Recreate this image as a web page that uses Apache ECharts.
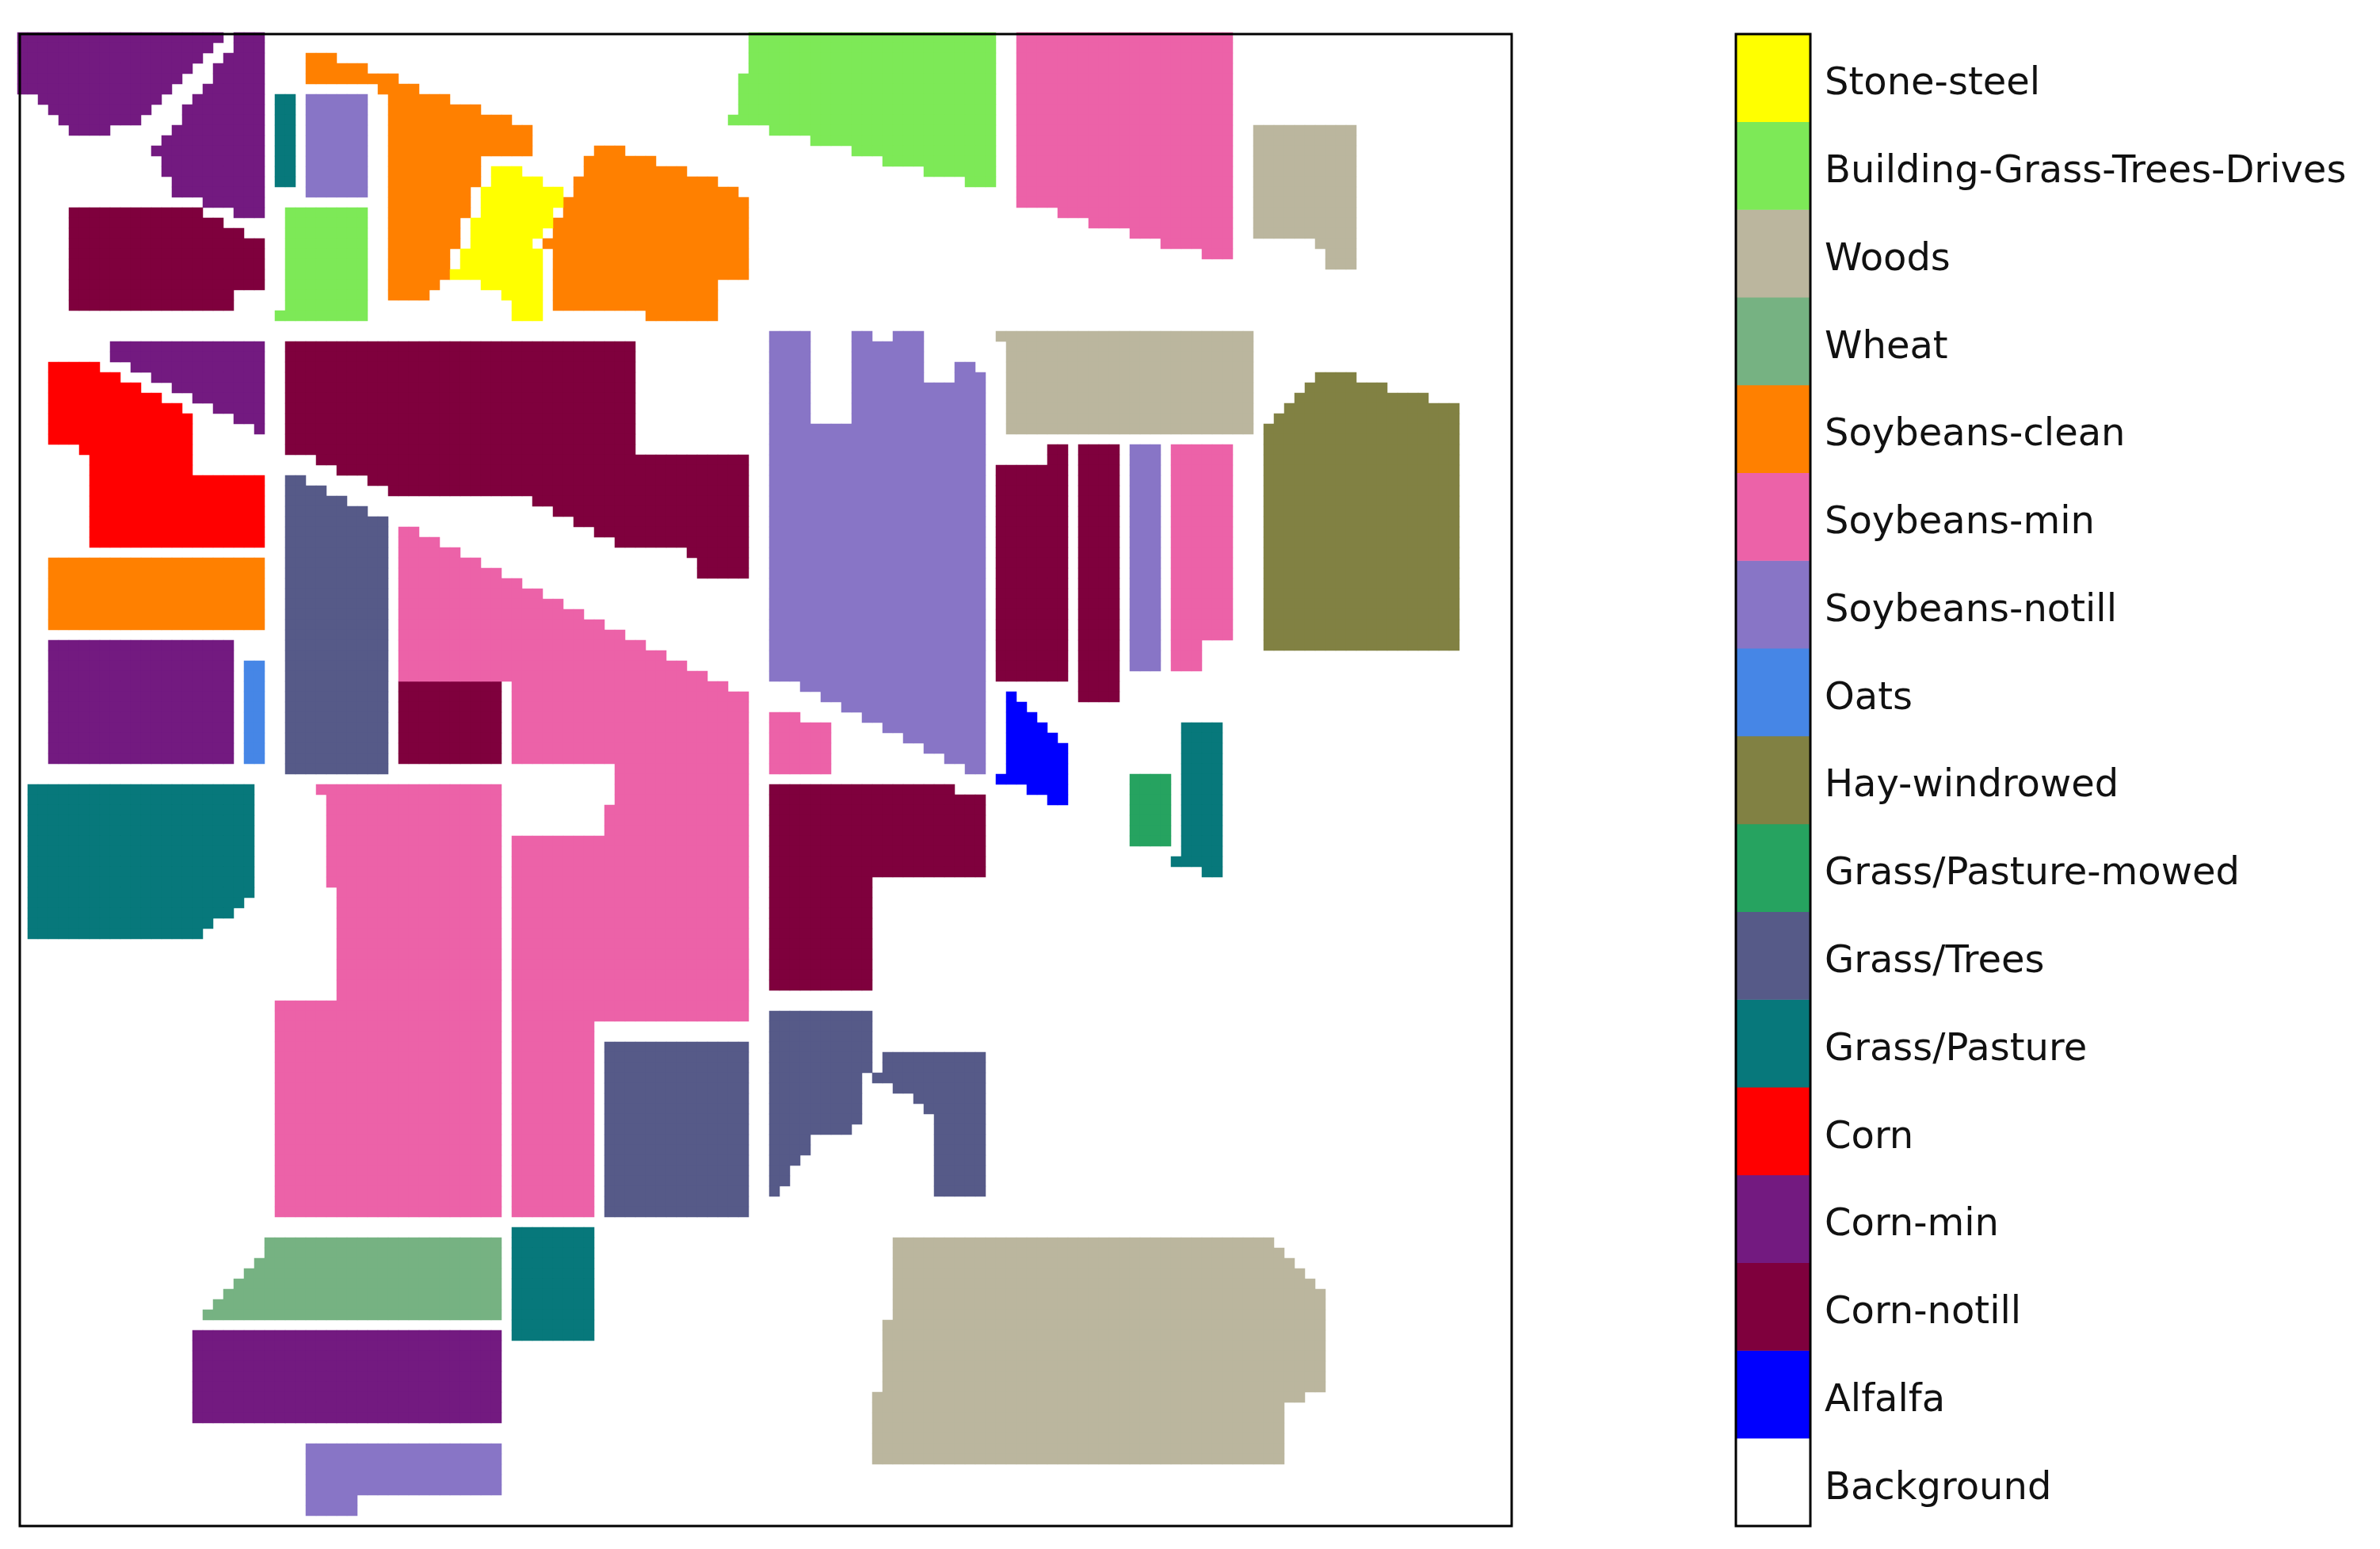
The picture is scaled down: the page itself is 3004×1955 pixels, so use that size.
<!DOCTYPE html>
<html>
<head>
<meta charset="utf-8">
<title>Indian Pines ground truth</title>
<script src="https://cdn.jsdelivr.net/npm/echarts@6/dist/echarts.min.js"></script>
<style>
  html, body { margin: 0; padding: 0; background: #fff; }
  #main { width: 3004px; height: 1955px; }
</style>
</head>
<body>
<div id="main"></div>
<script>
// legend, bottom to top (index = class value)
var classNames = ['Background', 'Alfalfa', 'Corn-notill', 'Corn-min', 'Corn', 'Grass/Pasture', 'Grass/Trees',
  'Grass/Pasture-mowed', 'Hay-windrowed', 'Oats', 'Soybeans-notill', 'Soybeans-min', 'Soybeans-clean',
  'Wheat', 'Woods', 'Building-Grass-Trees-Drives', 'Stone-steel'];
var classColors = ['#ffffff', '#0000ff', '#7f003d', '#731a80', '#ff0000', '#07787b', '#565a88',
  '#26a360', '#818143', '#4686e6', '#8875c6', '#ec62a8', '#ff8000', '#76b282', '#bbb69e', '#7de957', '#ffff00'];

var gridSize = 145;

// class map, one entry per run of rows: [first row, row after last, first col, col after last]
var alfalfa = [[64,65,96,97],[65,66,96,98],[66,67,96,99],[67,68,96,100],[68,69,96,101],[69,72,96,102],[72,73,95,102],[73,74,98,102],[74,75,100,102]];

var cornNotill = [
  [17,18,5,18],[18,19,5,20],[19,20,5,22],[20,25,5,24],[25,27,5,21],
  [30,41,26,60],[41,42,29,71],[42,43,31,71],[43,44,34,71],[44,45,36,71],[45,46,50,71],[46,47,52,71],[47,48,54,71],[48,49,56,71],[49,50,58,71],[50,51,65,71],[51,53,66,71],
  [63,71,37,47],
  [73,74,73,91],[74,82,73,94],[82,93,73,83],
  [40,42,100,102],[42,63,95,102],
  [40,65,103,107]];

var cornMin = [
  [0,1,0,20],[1,2,0,19],[2,3,0,18],[3,4,0,17],[4,5,0,16],[5,6,0,15],[6,7,2,14],[7,8,3,13],[8,9,4,12],[9,10,5,9],
  [0,2,21,24],[2,3,20,24],[3,5,19,24],[5,6,18,24],[6,7,17,24],[7,9,16,24],[9,10,15,24],[10,11,14,24],[11,12,13,24],[12,14,14,24],[14,16,15,24],[16,17,18,24],[17,18,21,24],
  [30,32,9,24],[32,33,11,24],[33,34,13,24],[34,35,15,24],[35,36,17,24],[36,37,19,24],[37,38,21,24],[38,39,23,24],
  [59,71,3,21],
  [126,135,17,47]];

var corn = [[32,33,3,8],[33,34,3,10],[34,35,3,12],[35,36,3,14],[36,37,3,16],[37,40,3,17],[40,41,6,17],[41,43,7,17],[43,50,7,24]];

var grassPasture = [
  [6,15,25,27],
  [73,84,1,23],[84,85,1,22],[85,86,1,21],[86,87,1,19],[87,88,1,18],
  [116,127,48,56],
  [67,80,113,117],[80,81,112,117],[81,82,115,117]];

var grassTrees = [
  [43,44,26,28],[44,45,26,30],[45,46,26,32],[46,47,26,34],[47,72,26,36],
  [98,115,57,71],
  [95,101,73,83],[101,106,73,82],[106,107,73,81],[107,109,73,77],[109,110,73,76],[110,112,73,75],[112,113,73,74],
  [99,101,84,94],[101,102,83,94],[102,103,85,94],[103,104,87,94],[104,105,88,94],[105,113,89,94]];

var grassMowed = [[72,79,108,112]];

var hay = [[33,34,126,130],[34,35,125,133],[35,36,124,137],[36,37,123,140],[37,38,122,140],[38,60,121,140]];

var oats = [[61,71,22,24]];

var soyNotill = [
  [6,16,28,34],
  [29,38,73,77],[29,30,81,83],[29,30,85,88],[30,34,81,88],[32,33,91,93],[33,34,91,94],[34,38,81,94],
  [38,63,73,94],[63,64,76,94],[64,65,78,94],[65,66,80,94],[66,67,82,94],[67,68,84,94],[68,69,86,94],[69,70,88,94],[70,71,90,94],[71,72,92,94],
  [40,62,108,111],
  [137,142,28,47],[142,144,28,33]];

var soyMin = [
  [0,17,97,118],[17,18,101,118],[18,19,104,118],[19,20,108,118],[20,21,111,118],[21,22,115,118],
  [40,59,112,118],[59,62,112,115],
  [66,67,73,76],[67,72,73,79],
  [48,49,37,39],[49,50,37,41],[50,51,37,43],[51,52,37,45],[52,53,37,47],[53,54,37,49],[54,55,37,51],[55,56,37,53],[56,57,37,55],[57,58,37,57],[58,59,37,59],[59,60,37,61],[60,61,37,63],[61,62,37,65],[62,63,37,67],
  [63,64,48,69],[64,71,48,71],[71,75,58,71],[75,78,57,71],[78,96,48,71],[96,115,48,56],
  [73,74,29,47],[74,83,30,47],[83,94,31,47],[94,115,25,47]];

var soyClean = [
  [2,3,28,31],[3,4,28,34],[4,5,28,37],[5,6,35,39],[6,7,36,42],[7,8,36,45],[8,9,36,48],[9,12,36,50],[12,15,36,45],[15,18,36,44],[18,21,36,43],[21,24,36,42],[24,25,36,41],[25,26,36,40],
  [11,12,56,59],[12,13,55,62],[13,14,55,65],[14,15,54,68],[15,16,54,70],[16,18,53,71],[18,20,52,71],[20,21,51,71],[21,24,52,71],[24,27,52,68],[27,28,61,68],
  [51,58,3,24]];

var wheat = [[117,119,24,47],[119,120,23,47],[120,121,22,47],[121,122,21,47],[122,123,20,47],[123,124,19,47],[124,125,18,47]];

var woods = [
  [9,20,120,130],[20,21,126,130],[21,23,127,130],
  [29,30,95,120],[30,39,96,120],
  [117,118,85,122],[118,119,85,123],[119,120,85,124],[120,121,85,125],[121,122,85,126],[122,125,85,127],[125,132,84,127],[132,133,83,125],[133,139,83,123]];

var buildings = [
  [17,27,26,34],[27,28,25,34],
  [0,4,71,95],[4,8,70,95],[8,9,69,95],[9,10,73,95],[10,11,77,95],[11,12,81,95],[12,13,84,95],[13,14,88,95],[14,15,92,95]];

var stoneSteel = [[13,14,46,49],[14,15,46,51],[15,17,45,53],[17,18,45,52],[18,19,44,52],[19,20,44,51],[20,21,44,50],[21,23,43,51],[23,24,42,51],[24,25,45,51],[25,26,47,51],[26,28,48,51]];

var classRuns = [[], alfalfa, cornNotill, cornMin, corn, grassPasture, grassTrees, grassMowed, hay, oats,
  soyNotill, soyMin, soyClean, wheat, woods, buildings, stoneSteel];

function cellsOf(runs, value) {
  var cells = [];
  runs.forEach(function (r) {
    for (var row = r[0]; row < r[1]; row++) {
      for (var col = r[2]; col < r[3]; col++) {
        cells.push([col, row, value]);
      }
    }
  });
  return cells;
}

var indexLabels = [];
for (var i = 0; i < gridSize; i++) indexLabels.push(String(i));

var series = [];
classRuns.forEach(function (runs, k) {
  if (!runs.length) return;
  series.push({
    type: 'heatmap',
    name: classNames[k],
    xAxisIndex: 0,
    yAxisIndex: 0,
    data: cellsOf(runs, k),
    itemStyle: { color: classColors[k] },
    progressive: 0,
    silent: true
  });
});

// colour bar
series.push({
  type: 'heatmap',
  name: 'colorbar',
  xAxisIndex: 1,
  yAxisIndex: 1,
  data: classNames.map(function (name, k) {
    return { value: [0, k, k], itemStyle: { color: classColors[k] } };
  }),
  progressive: 0,
  silent: true
});

var myChart = echarts.init(document.getElementById('main'), null, { renderer: 'canvas' });

var option = {
  animation: false,
  backgroundColor: '#ffffff',
  tooltip: { show: false },
  grid: [
    // 13px per cell keeps the cells on whole pixels, no seams. frame gets its own grid on top
    { left: 22, top: 41, width: 1885, height: 1885 },
    { left: 2191, top: 43, width: 94, height: 1883, show: true, z: 5, backgroundColor: 'transparent', borderColor: '#000', borderWidth: 3 },
    { left: 25, top: 43, width: 1883, height: 1883, show: true, z: 5, backgroundColor: 'transparent', borderColor: '#000', borderWidth: 3 }
  ],
  xAxis: [
    { type: 'category', gridIndex: 0, data: indexLabels, show: false },
    { type: 'category', gridIndex: 1, data: ['0'], show: false },
    { type: 'value', gridIndex: 2, show: false }
  ],
  yAxis: [
    { type: 'category', gridIndex: 0, data: indexLabels, inverse: true, show: false },
    {
      type: 'category',
      gridIndex: 1,
      data: classNames,
      position: 'right',
      axisLine: { show: false },
      axisTick: { show: false },
      splitLine: { show: false },
      axisLabel: {
        interval: 0,
        margin: 18,
        formatter: function (name) { return '{t|' + name + '}'; },
        rich: {
          t: {
            color: '#111',
            fontFamily: 'DejaVu Sans',
            fontSize: 48,
            padding: [17, 0, 0, 0]
          }
        }
      }
    },
    { type: 'value', gridIndex: 2, show: false }
  ],
  series: series
};

myChart.setOption(option);
</script>
</body>
</html>
